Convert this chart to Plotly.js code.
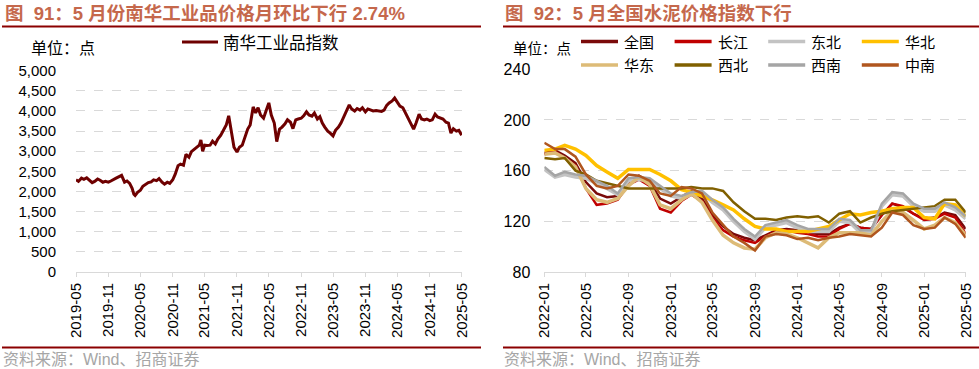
<!DOCTYPE html>
<html>
<head>
<meta charset="utf-8">
<script src="https://cdn.plot.ly/plotly-3.0.1.min.js"></script>
<style>html,body{margin:0;padding:0;background:#fff;}#chart{width:979px;height:369px;}</style>
</head>
<body>
<div id="chart"></div>
<script>
// ---------- Left chart: 南华工业品指数 ----------
const nhDates = [
'2019-05-01','2019-05-15','2019-06-01','2019-06-15','2019-07-01','2019-07-15','2019-08-01','2019-08-15','2019-09-01','2019-09-15',
'2019-10-01','2019-10-15','2019-11-01','2019-11-15','2019-12-01','2019-12-15','2020-01-01','2020-01-15','2020-02-01','2020-02-15',
'2020-03-01','2020-03-15','2020-03-25','2020-04-01','2020-04-15','2020-05-01','2020-05-15','2020-06-01','2020-06-15','2020-07-01',
'2020-07-15','2020-08-01','2020-08-15','2020-09-01','2020-09-15','2020-10-01','2020-10-15','2020-11-01','2020-11-15','2020-12-01',
'2020-12-15','2021-01-01','2021-01-15','2021-02-01','2021-02-15','2021-03-01','2021-03-15','2021-04-01','2021-04-10','2021-04-20',
'2021-05-01','2021-05-15','2021-06-01','2021-06-15','2021-07-01','2021-07-15','2021-08-01','2021-08-15','2021-09-01','2021-09-15',
'2021-10-01','2021-10-15','2021-11-01','2021-11-15','2021-12-01','2021-12-15','2022-01-01','2022-01-15','2022-02-01','2022-02-15',
'2022-03-01','2022-03-15','2022-04-01','2022-04-15','2022-05-01','2022-05-15','2022-06-01','2022-06-15','2022-07-01','2022-07-15',
'2022-08-01','2022-08-15','2022-09-01','2022-09-15','2022-10-01','2022-10-15','2022-11-01','2022-11-15','2022-12-01','2022-12-15',
'2023-01-01','2023-01-15','2023-02-01','2023-02-15','2023-03-01','2023-03-15','2023-04-01','2023-04-15','2023-05-01','2023-05-15',
'2023-06-01','2023-06-15','2023-07-01','2023-07-15','2023-08-01','2023-08-15','2023-09-01','2023-09-15','2023-10-01','2023-10-15',
'2023-11-01','2023-11-15','2023-12-01','2023-12-15','2024-01-01','2024-01-15','2024-02-01','2024-02-15','2024-03-01','2024-03-15',
'2024-04-01','2024-04-15','2024-05-01','2024-05-15','2024-06-01','2024-06-15','2024-07-01','2024-07-15','2024-08-01','2024-08-15',
'2024-09-01','2024-09-15','2024-10-01','2024-10-15','2024-11-01','2024-11-15','2024-12-01','2024-12-15','2025-01-01','2025-01-15',
'2025-02-01','2025-02-15','2025-03-01','2025-03-15','2025-04-01','2025-04-15','2025-05-01'
];
const nhValues = [
2290,2250,2330,2300,2340,2280,2220,2250,2310,2280,
2230,2250,2230,2260,2290,2330,2370,2400,2230,2260,
2200,2080,1930,1900,1980,2030,2130,2180,2220,2240,
2290,2270,2320,2230,2180,2230,2200,2290,2430,2640,
2680,2650,2920,2850,2990,3040,3100,3150,3280,3000,
3150,3140,3150,3250,3180,3300,3400,3500,3650,3880,
3500,3100,2980,3100,3150,3350,3550,3650,4100,3950,
4080,3900,3820,4000,4200,3900,3700,3240,3550,3600,
3680,3780,3720,3560,3780,3800,3820,3880,3980,3900,
3870,3950,3800,3860,3700,3600,3500,3450,3380,3520,
3600,3700,3850,3950,4150,4050,4000,4060,4020,4080,
3980,4050,4020,4000,4010,4000,3990,4020,4140,4200,
4250,4320,4200,4120,4080,3950,3800,3700,3550,3700,
3920,3800,3780,3800,3760,3780,3920,3850,3820,3800,
3720,3700,3450,3560,3500,3520,3400
];
const nhTickVals = ['2019-05-01','2019-11-01','2020-05-01','2020-11-01','2021-05-01','2021-11-01','2022-05-01','2022-11-01','2023-05-01','2023-11-01','2024-05-01','2024-11-01','2025-05-01'];
const nhTickText = ['2019-05','2019-11','2020-05','2020-11','2021-05','2021-11','2022-05','2022-11','2023-05','2023-11','2024-05','2024-11','2025-05'];

// ---------- Right chart: 水泥价格指数 ----------
const cmDates = [
'2022-01-01','2022-02-01','2022-03-01','2022-04-01','2022-05-01','2022-06-01','2022-07-01','2022-08-01','2022-09-01','2022-10-01',
'2022-11-01','2022-12-01','2023-01-01','2023-02-01','2023-03-01','2023-04-01','2023-05-01','2023-06-01','2023-07-01','2023-08-01',
'2023-09-01','2023-10-01','2023-11-01','2023-12-01','2024-01-01','2024-02-01','2024-03-01','2024-04-01','2024-05-01','2024-06-01',
'2024-07-01','2024-08-01','2024-09-01','2024-10-01','2024-11-01','2024-12-01','2025-01-01','2025-02-01','2025-03-01','2025-04-01',
'2025-05-01'
];
const quanguo  = [174,176,172,166,151,142,139,140,151,156,151,138,134,139,144,138,125,116,110,107,105,109,113,114,113,111,110,110,115,118,115,114,125,134,131,126,122,123,127,125,114];
const changjiang=[173,175,170,164,146,133,134,137,149,153,148,130,127,136,141,136,123,113,108,105,103,108,112,113,111,110,108,108,114,118,115,114,125,134,132,126,121,122,126,123,110];
const dongbei  = [161,155,157,155,154,150,146,141,152,153,152,146,140,138,141,142,135,129,120,112,106,115,117,119,115,112,112,112,120,119,111,111,132,141,140,132,128,128,133,129,122];
const huabei   = [176,177,180,177,172,164,159,154,161,161,161,157,152,145,143,140,137,133,129,122,116,114,114,112,112,112,114,116,121,126,125,127,128,130,131,131,123,122,134,133,124];
const huadong  = [173,174,170,163,146,137,135,138,148,155,149,133,130,137,142,135,121,109,103,99,98,107,111,110,107,103,99,107,111,111,111,109,120,128,127,121,114,117,123,119,109];
const xibei    = [170,169,170,160,157,152,150,148,146,146,146,146,146,146,147,146,146,144,135,128,122,122,121,123,124,123,124,119,126,128,119,123,126,128,129,130,131,132,137,137,127];
const xinan    = [163,156,159,157,156,152,148,142,154,155,154,148,142,140,143,144,137,131,122,114,108,117,119,121,117,114,114,114,122,121,113,113,134,143,142,134,130,130,135,131,124];
const zhongnan = [182,177,177,171,157,148,146,148,157,156,152,142,140,147,146,142,127,117,108,103,97,108,110,109,106,107,105,107,108,110,109,108,115,127,125,117,114,115,123,118,107];
const cmTickVals = ['2022-01-01','2022-05-01','2022-09-01','2023-01-01','2023-05-01','2023-09-01','2024-01-01','2024-05-01','2024-09-01','2025-01-01','2025-05-01'];
const cmTickText = ['2022-01','2022-05','2022-09','2023-01','2023-05','2023-09','2024-01','2024-05','2024-09','2025-01','2025-05'];

const seriesNames = ['全国','长江','东北','华北','华东','西北','西南','中南'];
const seriesData = [quanguo,changjiang,dongbei,huabei,huadong,xibei,xinan,zhongnan];
const seriesColors = ['#7A0A0A','#C00000','#C3C3C3','#FFC000','#DDBB77','#806000','#A5A5A5','#B0561E'];
const seriesWidths = [2.5,2.5,3.5,3.5,3.5,2.5,2.5,2.5];

const W = 979, H = 369;
const px = v => v / W;
const py = v => 1 - v / H;

const FONT_NUM = 'Liberation Sans, Arial, sans-serif';
const FONT_CJK = 'Noto Sans CJK SC, sans-serif';
const FONT_MIX = 'Liberation Sans, Noto Sans CJK SC, sans-serif';

const leftName = '南华工业品指数';
const leftColor = '#6E0000';

const traces = [{
  type: 'scatter', mode: 'lines', x: nhDates, y: nhValues, name: leftName,
  line: {color: leftColor, width: 3}, xaxis: 'x', yaxis: 'y', showlegend: false
}];
seriesNames.forEach((n, i) => {
  traces.push({
    type: 'scatter', mode: 'lines', x: cmDates, y: seriesData[i], name: n,
    line: {color: seriesColors[i], width: seriesWidths[i]}, xaxis: 'x2', yaxis: 'y2', showlegend: false
  });
});

const gridCommon = {gridcolor: '#D9D9D9', griddash: 'dash', gridwidth: 1, zeroline: false};
const xCommon = {
  type: 'date', showgrid: false, showline: true, linecolor: '#D9D9D9', linewidth: 1,
  ticks: 'outside', ticklen: 4, tickcolor: '#D9D9D9', tickangle: -90,
  tickfont: {family: FONT_NUM, size: 15, color: '#000'}
};

const shapes = [
  {type: 'line', xref: 'paper', yref: 'paper', x0: px(2), x1: px(481), y0: py(26.5), y1: py(26.5), line: {color: '#8B0000', width: 2}},
  {type: 'line', xref: 'paper', yref: 'paper', x0: px(503), x1: px(979), y0: py(26.5), y1: py(26.5), line: {color: '#8B0000', width: 2}},
  {type: 'line', xref: 'paper', yref: 'paper', x0: px(2), x1: px(481), y0: py(347.5), y1: py(347.5), line: {color: '#8B0000', width: 2}},
  {type: 'line', xref: 'paper', yref: 'paper', x0: px(503), x1: px(979), y0: py(347.5), y1: py(347.5), line: {color: '#8B0000', width: 2}},
  // left legend key
  {type: 'line', xref: 'paper', yref: 'paper', x0: px(182), x1: px(218), y0: py(42), y1: py(42), line: {color: leftColor, width: 3}}
];
const annotations = [
  {text: '<b>图  91：5 月份南华工业品价格月环比下行 2.74%</b>', xref: 'paper', yref: 'paper', x: px(3), y: py(14), xanchor: 'left', yanchor: 'middle', showarrow: false,
   font: {family: FONT_MIX, size: 18.5, color: '#C5684C'}},
  {text: '<b>图  92：5 月全国水泥价格指数下行</b>', xref: 'paper', yref: 'paper', x: px(503), y: py(14), xanchor: 'left', yanchor: 'middle', showarrow: false,
   font: {family: FONT_MIX, size: 18.5, color: '#C5684C'}},
  {text: '单位：点', xref: 'paper', yref: 'paper', x: px(29), y: py(47), xanchor: 'left', yanchor: 'middle', showarrow: false,
   font: {family: FONT_CJK, size: 16, color: '#000'}},
  {text: '单位：点', xref: 'paper', yref: 'paper', x: px(511), y: py(47), xanchor: 'left', yanchor: 'middle', showarrow: false,
   font: {family: FONT_CJK, size: 14.5, color: '#000'}},
  {text: '资料来源：Wind、招商证券', xref: 'paper', yref: 'paper', x: px(1), y: py(359), xanchor: 'left', yanchor: 'middle', showarrow: false,
   font: {family: FONT_MIX, size: 16, color: '#A6A6A6'}},
  {text: '资料来源：Wind、招商证券', xref: 'paper', yref: 'paper', x: px(502), y: py(359), xanchor: 'left', yanchor: 'middle', showarrow: false,
   font: {family: FONT_MIX, size: 16, color: '#A6A6A6'}},
  {text: leftName, xref: 'paper', yref: 'paper', x: px(221), y: py(42), xanchor: 'left', yanchor: 'middle', showarrow: false,
   font: {family: FONT_CJK, size: 16.5, color: '#000'}}
];
// right legend (4 columns x 2 rows)
seriesNames.forEach((n, i) => {
  const col = i % 4, row = Math.floor(i / 4);
  const x0 = 581 + col * 93.6;
  const yy = row === 0 ? 41.5 : 65;
  shapes.push({type: 'line', xref: 'paper', yref: 'paper', x0: px(x0), x1: px(x0 + 37), y0: py(yy), y1: py(yy),
    line: {color: seriesColors[i], width: 3.5}});
  annotations.push({text: n, xref: 'paper', yref: 'paper', x: px(x0 + 41), y: py(yy), xanchor: 'left', yanchor: 'middle', showarrow: false,
    font: {family: FONT_CJK, size: 15, color: '#000'}});
});

const layout = {
  width: W, height: H,
  margin: {l: 0, r: 0, t: 0, b: 0},
  paper_bgcolor: '#fff', plot_bgcolor: '#fff',
  showlegend: false,
  xaxis: Object.assign({}, xCommon, {
    domain: [px(76), px(462)], anchor: 'y',
    range: ['2019-05-01', '2025-05-03'],
    tickmode: 'array', tickvals: nhTickVals, ticktext: nhTickText
  }),
  yaxis: Object.assign({}, gridCommon, {
    domain: [py(272), py(70.7)], anchor: 'x',
    range: [0, 5000], tickmode: 'array',
    tickvals: [0,500,1000,1500,2000,2500,3000,3500,4000,4500,5000],
    ticktext: ['0','500','1,000','1,500','2,000','2,500','3,000','3,500','4,000','4,500','5,000'],
    showline: false, ticks: '', ticklabelstandoff: 19,
    tickfont: {family: FONT_NUM, size: 15, color: '#000'}
  }),
  xaxis2: Object.assign({}, xCommon, {
    domain: [px(544.3), px(965.7)], anchor: 'y2',
    range: ['2022-01-01', '2025-05-01'],
    tickmode: 'array', tickvals: cmTickVals, ticktext: cmTickText
  }),
  yaxis2: Object.assign({}, gridCommon, {
    domain: [py(272), py(69.3)], anchor: 'x2',
    range: [80, 240], tickmode: 'array', tickvals: [80,120,160,200,240],
    showline: false, ticks: '', ticklabelstandoff: 13,
    tickfont: {family: FONT_NUM, size: 16, color: '#000'}
  }),
  shapes: shapes,
  annotations: annotations
};

Plotly.newPlot('chart', traces, layout, {displayModeBar: false, staticPlot: true});
</script>
</body>
</html>
